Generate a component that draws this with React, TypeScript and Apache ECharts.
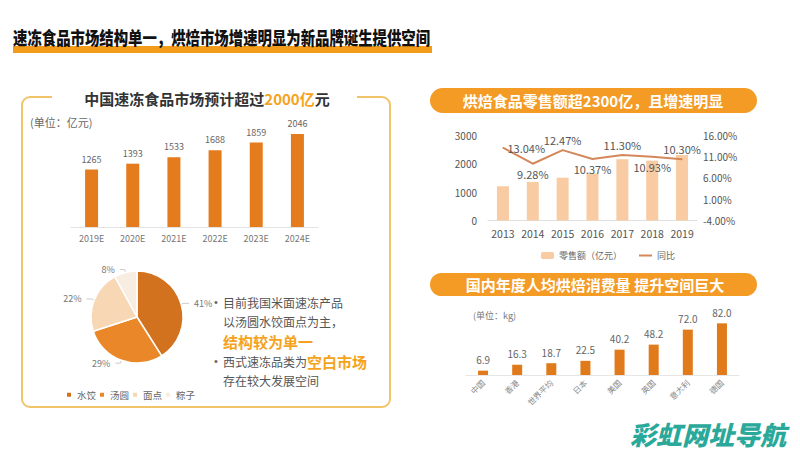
import React, { useEffect, useRef } from "react";
import * as echarts from "echarts";

const FONT = '"Noto Sans CJK SC", "Noto Sans", sans-serif';

// 速冻食品市场规模（亿元）
const frozenYears = ["2019E", "2020E", "2021E", "2022E", "2023E", "2024E"];
const frozenValues = [1265, 1393, 1533, 1688, 1859, 2046];

// 米面速冻产品结构
const pieNames = ["水饺", "汤圆", "面点", "粽子"];
const pieValues = [41, 29, 22, 8];

// 烘焙食品零售额
const bakeYears = ["2013", "2014", "2015", "2016", "2017", "2018", "2019"];
const bakeSales = [1200, 1350, 1500, 1650, 2150, 2100, 2300];
const bakeGrowth = [13.04, 9.28, 12.47, 10.37, 11.3, 10.93, 10.3];

// 人均烘焙消费量（kg）
const countries = ["中国", "香港", "世界平均", "日本", "美国", "英国", "意大利", "德国"];
const perCapita = [6.9, 16.3, 18.7, 22.5, 40.2, 48.2, 72.0, 82.0];

const growthLabelPos = ["right", "bottom", "top", "bottom", "top", "bottom", "top"];

const ORANGE = "#e47b1d";
const HIGHLIGHT = "#f5a31c";
const LINE = "#d4875a";
const pieColors = ["#d2711e", "#ea8728", "#f8d8b4", "#f7ede0"];

export default function App() {
  const ref = useRef<HTMLDivElement>(null);

  useEffect(() => {
    if (!ref.current) return;
    const chart = echarts.init(ref.current, null, { renderer: "svg" });

    const option: any = {
      animation: false,
      backgroundColor: "#ffffff",
      textStyle: { fontFamily: FONT },
      legend: [
        {
          data: pieNames,
          left: 60,
          top: 385,
          icon: "rect",
          itemWidth: 6,
          itemHeight: 6,
          itemGap: 2,
          textStyle: { fontSize: 9.5, color: "#666", fontFamily: FONT },
        },
        {
          data: [{ name: "零售额（亿元）" }, { name: "同比", itemStyle: { opacity: 0 } }],
          left: 536,
          top: 246,
          itemWidth: 13,
          itemHeight: 7,
          itemGap: 16,
          textStyle: { fontSize: 9, color: "#666", fontFamily: FONT },
        },
      ],
      grid: [
        { left: 71, top: 127, width: 247, height: 100 },
        { left: 488, top: 135, width: 209, height: 85.5 },
        { left: 466, top: 318.3, width: 273, height: 56.7 },
      ],
      xAxis: [
        {
          gridIndex: 0,
          type: "category",
          data: frozenYears,
          axisLine: { lineStyle: { color: "#e3e3e3" } },
          axisTick: { show: false },
          axisLabel: { fontSize: 9, color: "#777", margin: 7, fontFamily: FONT },
        },
        {
          gridIndex: 1,
          type: "category",
          data: bakeYears,
          axisLine: { lineStyle: { color: "#e0e0e0" } },
          axisTick: { show: false },
          axisLabel: { fontSize: 10.5, color: "#555", margin: 8, interval: 0, fontFamily: FONT },
        },
        {
          gridIndex: 2,
          type: "category",
          data: countries,
          axisLine: { lineStyle: { color: "#e6e6e6" } },
          axisTick: { show: false },
          axisLabel: { fontSize: 8, color: "#888", margin: 6, rotate: 45, interval: 0, fontFamily: FONT },
        },
      ],
      yAxis: [
        { gridIndex: 0, type: "value", min: 0, max: 2200, show: false },
        {
          gridIndex: 1,
          type: "value",
          min: 0,
          max: 3000,
          interval: 1000,
          splitLine: { show: false },
          axisLine: { show: false },
          axisTick: { show: false },
          axisLabel: {
            fontSize: 10,
            color: "#555",
            margin: 11,
            fontFamily: FONT,
            formatter: (v: number) => String(v),
          },
        },
        {
          gridIndex: 1,
          type: "value",
          position: "right",
          min: -4,
          max: 16,
          interval: 5,
          splitLine: { show: false },
          axisLine: { show: false },
          axisTick: { show: false },
          axisLabel: {
            fontSize: 10,
            color: "#555",
            margin: 6,
            fontFamily: FONT,
            formatter: (v: number) => v.toFixed(2) + "%",
          },
        },
        { gridIndex: 2, type: "value", min: 0, max: 90, show: false },
      ],
      series: [
        {
          name: "速冻食品市场",
          type: "bar",
          xAxisIndex: 0,
          yAxisIndex: 0,
          data: frozenValues,
          barWidth: 13,
          itemStyle: { color: ORANGE },
          label: { show: true, position: "top", fontSize: 9, color: "#666", distance: 6, fontFamily: FONT },
        },
        {
          name: "零售额（亿元）",
          type: "bar",
          xAxisIndex: 1,
          yAxisIndex: 1,
          data: bakeSales,
          barWidth: 12,
          itemStyle: { color: "#f8cba3" },
        },
        {
          name: "同比",
          type: "line",
          xAxisIndex: 1,
          yAxisIndex: 2,
          data: bakeGrowth.map((v, i) => ({
            value: v,
            label: { position: growthLabelPos[i] },
          })),
          symbol: "circle",
          symbolSize: 1,
          showSymbol: true,
          lineStyle: { color: LINE, width: 2 },
          itemStyle: { color: LINE },
          label: {
            show: true,
            fontSize: 11,
            color: "#555",
            distance: 4,
            fontFamily: FONT,
            formatter: (p: any) => bakeGrowth[p.dataIndex].toFixed(2) + "%",
          },
          z: 5,
        },
        {
          name: "人均烘焙消费量",
          type: "bar",
          xAxisIndex: 2,
          yAxisIndex: 3,
          data: perCapita,
          barWidth: 10,
          itemStyle: { color: "#e07a1a" },
          label: {
            show: true,
            position: "top",
            fontSize: 10,
            color: "#666",
            distance: 6,
            fontFamily: FONT,
            formatter: (p: any) => Number(p.value).toFixed(1),
          },
        },
        {
          name: "米面速冻结构",
          type: "pie",
          center: [137, 317],
          radius: 46,
          startAngle: 90,
          data: pieNames.map((n, i) => ({ name: n, value: pieValues[i], itemStyle: { color: pieColors[i] } })),
          itemStyle: { borderColor: "#fff", borderWidth: 1.5 },
          label: { show: true, formatter: "{c}%", fontSize: 9, color: "#777", fontFamily: FONT },
          labelLine: { length: 3, length2: 5, lineStyle: { color: "#ccc" } },
        },
      ],
      graphic: [
        // main title
        { type: "rect", shape: { x: 13, y: 46, width: 419, height: 7 }, style: { fill: "#f39c1a" } },
        {
          type: "text",
          x: 13,
          y: 37,
          scaleX: 0.8,
          style: {
            x: 0,
            y: 0,
            text: "速冻食品市场结构单一，烘焙市场增速明显为新品牌诞生提供空间",
            fontSize: 18,
            fontWeight: 900,
            fontFamily: FONT,
            fill: "#111",
            textVerticalAlign: "middle",
          },
        },
        // left panel border
        {
          type: "rect",
          shape: { x: 22, y: 97, width: 368, height: 310, r: 8 },
          style: { fill: "none", stroke: "#f1c46a", lineWidth: 2 },
        },
        { type: "rect", shape: { x: 52, y: 88, width: 305, height: 16 }, style: { fill: "#fff" } },
        {
          type: "text",
          x: 207,
          y: 98,
          style: {
            text: "{a|中国速冻食品市场预计超过}{b|2000亿}{a|元}",
            textAlign: "center",
            textVerticalAlign: "middle",
            rich: {
              a: { fontSize: 15, fontWeight: "bold", fill: "#333", fontFamily: FONT },
              b: { fontSize: 15, fontWeight: "bold", fill: HIGHLIGHT, fontFamily: FONT },
            },
          },
        },
        {
          type: "text",
          x: 30,
          y: 122,
          style: { text: "(单位：亿元)", fontSize: 11, fill: "#666", fontFamily: FONT, textVerticalAlign: "middle" },
        },
        // bullets
        { type: "text", x: 214, y: 302, style: { text: "•", fontSize: 11, fill: "#666", textVerticalAlign: "middle" } },
        {
          type: "text",
          x: 223,
          y: 302,
          style: { text: "目前我国米面速冻产品", fontSize: 12, fill: "#555", fontFamily: FONT, textVerticalAlign: "middle" },
        },
        {
          type: "text",
          x: 223,
          y: 321,
          style: { text: "以汤圆水饺面点为主，", fontSize: 12, fill: "#555", fontFamily: FONT, textVerticalAlign: "middle" },
        },
        {
          type: "text",
          x: 223,
          y: 341,
          style: {
            text: "结构较为单一",
            fontSize: 15,
            fontWeight: "bold",
            fill: HIGHLIGHT,
            fontFamily: FONT,
            textVerticalAlign: "middle",
          },
        },
        { type: "text", x: 214, y: 361, style: { text: "•", fontSize: 11, fill: "#666", textVerticalAlign: "middle" } },
        {
          type: "text",
          x: 223,
          y: 361,
          style: {
            text: "{a|西式速冻品类为}{b|空白市场}",
            textVerticalAlign: "middle",
            rich: {
              a: { fontSize: 12, fill: "#555", fontFamily: FONT },
              b: { fontSize: 15, fontWeight: "bold", fill: HIGHLIGHT, fontFamily: FONT },
            },
          },
        },
        {
          type: "text",
          x: 223,
          y: 380,
          style: { text: "存在较大发展空间", fontSize: 12, fill: "#555", fontFamily: FONT, textVerticalAlign: "middle" },
        },
        // right banners
        {
          type: "rect",
          shape: { x: 430, y: 88, width: 327, height: 25, r: 12.5 },
          style: { fill: "#f39b25" },
        },
        {
          type: "text",
          x: 593,
          y: 100.5,
          style: {
            text: "烘焙食品零售额超2300亿，且增速明显",
            fontSize: 15,
            fontWeight: "bold",
            fill: "#fff",
            fontFamily: FONT,
            textAlign: "center",
            textVerticalAlign: "middle",
          },
        },
        {
          type: "rect",
          shape: { x: 430, y: 273, width: 327, height: 23, r: 11.5 },
          style: { fill: "#f39b25" },
        },
        {
          type: "text",
          x: 595,
          y: 284.5,
          style: {
            text: "国内年度人均烘焙消费量 提升空间巨大",
            fontSize: 15,
            fontWeight: "bold",
            fill: "#fff",
            fontFamily: FONT,
            textAlign: "center",
            textVerticalAlign: "middle",
          },
        },
        {
          type: "text",
          x: 473,
          y: 315,
          style: { text: "(单位：kg)", fontSize: 9, fill: "#777", fontFamily: FONT, textVerticalAlign: "middle" },
        },
        // watermark
        {
          type: "text",
          x: 630,
          y: 433,
          style: {
            text: "彩虹网址导航",
            fontSize: 26,
            fontWeight: 900,
            fontStyle: "italic",
            fill: "#2aa99b",
            fontFamily: FONT,
            textVerticalAlign: "middle",
          },
        },
      ],
    };

    chart.setOption(option);
    return () => chart.dispose();
  }, []);

  return <div ref={ref} style={{ width: 800, height: 450, position: "absolute", left: 0, top: 0 }} />;
}
